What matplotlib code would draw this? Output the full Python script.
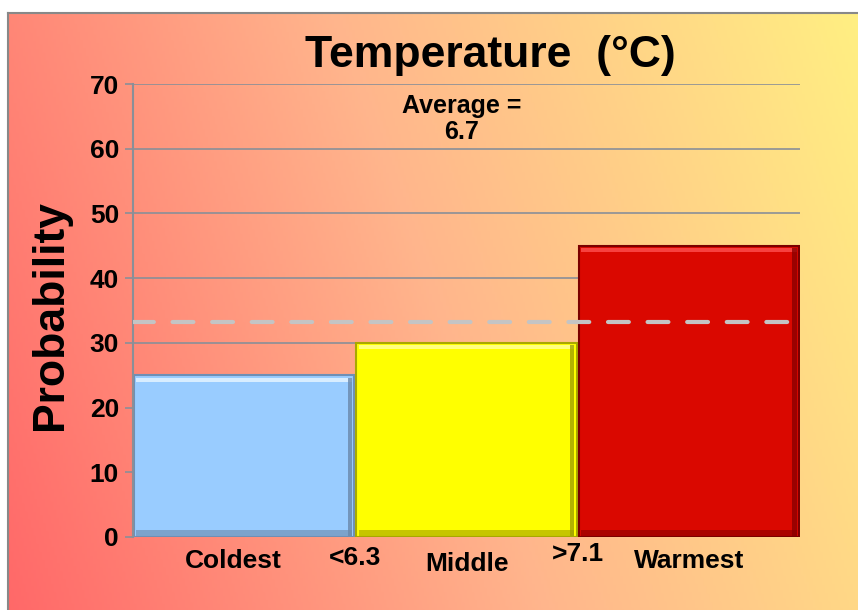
import matplotlib.pyplot as plt
import numpy as np
from matplotlib.colors import LinearSegmentedColormap
from matplotlib.patches import Rectangle

plt.rcParams['font.family'] = ['Liberation Sans', 'DejaVu Sans']
plt.rcParams['font.weight'] = 'bold'

# Data
categories = ['Coldest', 'Middle', 'Warmest']
probabilities = [25, 30, 45]
bar_colors = ['#99ccff', '#ffff00', '#da0800']
edge_colors = ['#6f8fb5', '#a8a800', '#7a0000']
highlight_colors = ['#e8f6ff', '#ffffa0', '#ff5050']
shadow_colors = ['#6a88aa', '#a0a000', '#8a0000']
bounds = ['<6.3', '>7.1']
climatology = 33.3
average_text = 'Average =\n6.7'
yticks = [0, 10, 20, 30, 40, 50, 60, 70]

fig = plt.figure(figsize=(8.58, 6.10), dpi=100)

# Background with diagonal gradient, framed on top/left
bg = fig.add_axes([8 / 858, -0.01, 1 - 8 / 858 + 0.01, 1.01 - 13 / 610])
bg.set_xlim(0, 1)
bg.set_ylim(0, 1)
xx, yy = np.meshgrid(np.linspace(0, 1, 300), np.linspace(0, 1, 300))
t = 0.8 * xx + 0.2 * yy
cmap = LinearSegmentedColormap.from_list(
    'bg', [(1.0, 0.41, 0.41), (1.0, 0.71, 0.55), (1.0, 0.94, 0.51)])
bg.imshow(t, cmap=cmap, origin='lower', extent=[0, 1, 0, 1], aspect='auto')
bg.set_xticks([])
bg.set_yticks([])
for s in bg.spines.values():
    s.set_color('#888888')
    s.set_linewidth(1.5)

ax = fig.add_axes([133 / 858, 1 - 537 / 610, (800 - 133) / 858, (537 - 84) / 610])
ax.patch.set_alpha(0)
x = np.arange(len(categories))
ax.set_xlim(-0.5, 2.5)
ax.set_ylim(0, 70)

ax.set_yticks(yticks)
ax.yaxis.grid(True, color='#8a8f98', linewidth=1.2)
ax.set_axisbelow(True)
ax.tick_params(axis='y', length=6, width=1.2, color='#8a8f98', labelsize=19, pad=4)
ax.tick_params(axis='x', length=0, labelbottom=False)
for name in ['top', 'right', 'bottom']:
    ax.spines[name].set_visible(False)
ax.spines['left'].set_color('#8a8f98')
ax.spines['left'].set_linewidth(1.5)

bars = ax.bar(x, probabilities, width=0.99, color=bar_colors,
              edgecolor=edge_colors, linewidth=1.5, zorder=2)
# simple bevel: light strip on top, dark strips at bottom and right
for xi, v, hc, sc in zip(x, probabilities, highlight_colors, shadow_colors):
    ax.add_patch(Rectangle((xi - 0.485, v - 1.0), 0.97, 0.6, color=hc,
                           zorder=3, linewidth=0, alpha=0.8))
    ax.add_patch(Rectangle((xi - 0.485, 0.1), 0.97, 1.0, color=sc,
                           zorder=3, linewidth=0, alpha=0.6))
    ax.add_patch(Rectangle((xi + 0.465, 0.1), 0.02, v - 0.5, color=sc,
                           zorder=3, linewidth=0, alpha=0.8))

ax.axhline(climatology, xmax=0.985, color='#c4c4c4', linewidth=3,
           linestyle=(0, (5, 4.5)), dash_capstyle='round', zorder=4)

# category and boundary labels
ax.set_yticklabels([str(v) for v in yticks], fontweight='bold')
label_dx = [-0.05, 0, 0]
label_y = [-3.7, -4.1, -3.7]
for xi, name, dx, ly in zip(x, categories, label_dx, label_y):
    ax.text(xi + dx, ly, name, ha='center', va='center', fontsize=19,
            fontweight='bold')
bound_y = [-3.2, -2.6]
for i, (b, by) in enumerate(zip(bounds, bound_y)):
    ax.text(i + 0.5, by, b, ha='center', va='center', fontsize=19,
            fontweight='bold')

ax.text(0.98, 64.6, average_text, ha='center', va='center', fontsize=18,
        fontweight='bold', linespacing=1.1)

fig.text(490 / 858, 1 - 55 / 610, 'Temperature  (\u00b0C)', ha='center',
         va='center', fontsize=32, fontweight='bold')
fig.text(50 / 858, 1 - 315 / 610, 'Probability', rotation=90, ha='center',
         va='center', fontsize=32, fontweight='bold')

fig.savefig('out.png', dpi=100)
